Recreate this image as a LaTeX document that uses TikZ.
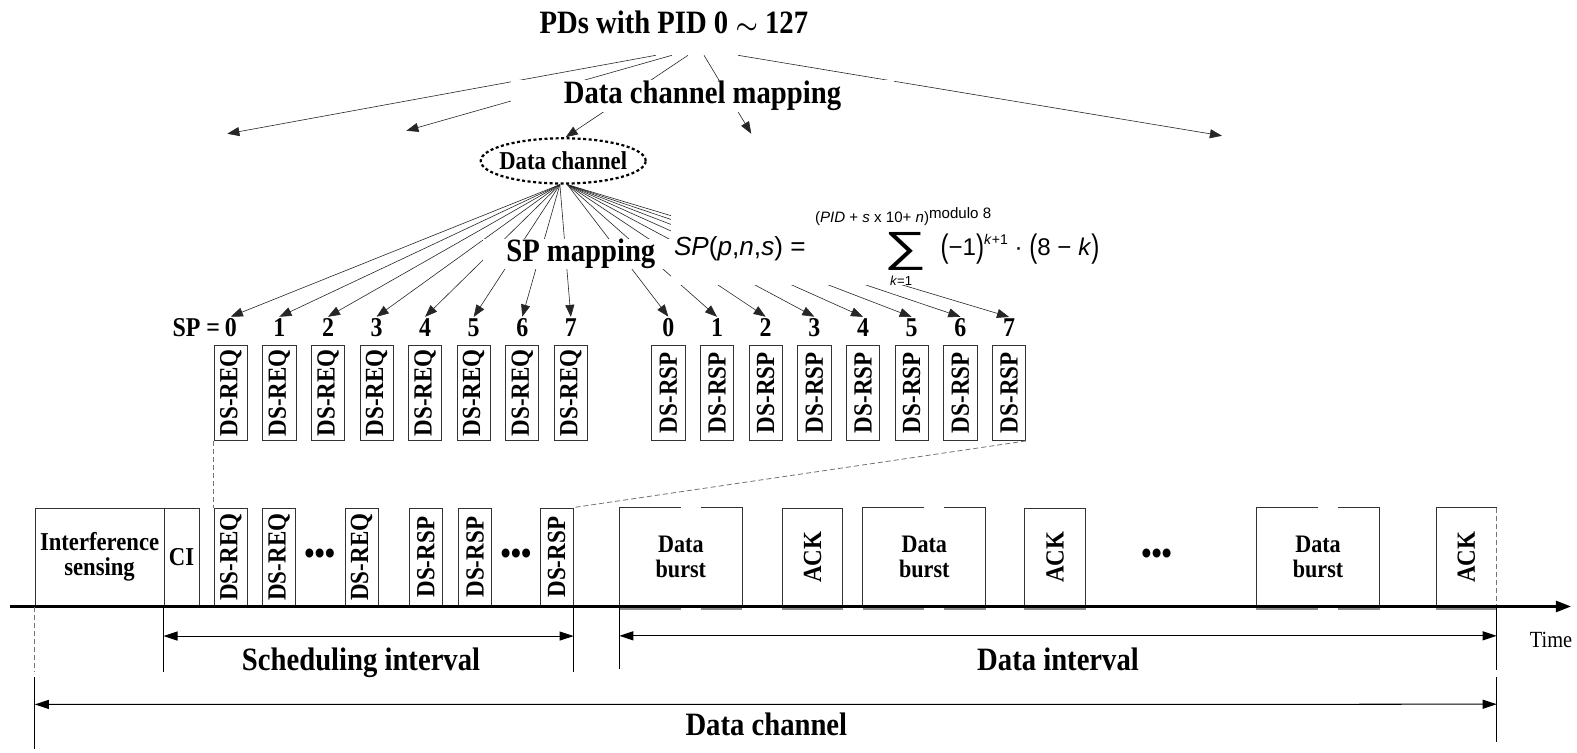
\documentclass[tikz,border=0pt]{standalone}
\usepackage{fontspec}
\setmainfont{Liberation Serif}[FakeStretch=0.88]
\newfontfamily\fsans{Liberation Sans}
\usetikzlibrary{arrows.meta,shapes.geometric,calc}

\tikzset{
  bigtext/.style={font=\fontsize{32.4}{34}\selectfont\bfseries, inner sep=0pt},
  numtext/.style={font=\fontsize{27}{28}\selectfont\bfseries, inner sep=2pt},
  fanarrow/.style={draw=black!85, line width=0.6pt, -{Triangle[length=12pt,width=9pt]}},
  slot/.style={draw=black!80, line width=0.8pt, minimum width=33pt, minimum height=95pt,
               inner sep=0pt, font=\fontsize{26}{27}\selectfont\bfseries},
  tslot/.style={slot, minimum height=98pt},
  wide/.style={minimum height=98pt, inner sep=0pt, align=center,
               font=\fontsize{25}{25}\selectfont\bfseries},
  boxedge/.style={draw=black!80, line width=0.8pt},
  baseshade/.style={draw=black!45, line width=3pt},
  twoway/.style={line width=1pt, {Triangle[length=14pt,width=9pt]}-{Triangle[length=14pt,width=9pt]}},
  vtick/.style={line width=1pt},
  guide/.style={draw=black!55, line width=0.8pt, dash pattern=on 5pt off 3pt},
  fx/.style={font=\fsans\fontsize{26}{26}\selectfont, inner sep=0pt},
  fxs/.style={font=\fsans\fontsize{15}{15}\selectfont, inner sep=0pt},
  dots/.style={font=\fontsize{33}{33}\selectfont\bfseries, inner sep=0pt},
}

\begin{document}
\begin{tikzpicture}[x=1pt,y=-1pt]
\useasboundingbox (0,0) rectangle (1568,748);

% ---- PID to data channel mapping ----
\node[bigtext] (title) at (670,22) {PDs with PID 0 {\boldmath$\sim$} 127};
\coordinate (t1) at (652,55);
\coordinate (t2) at (668,55);
\coordinate (t3) at (684,55);
\coordinate (t4) at (700,55);
\coordinate (t5) at (734,55);
\coordinate (c1) at (226,133);
\coordinate (c2) at (404,130);
\coordinate (c4) at (747,133);
\coordinate (c5) at (1215,135);

\node[ellipse, draw, line width=2.2pt, dash pattern=on 3pt off 2.5pt,
      minimum width=164pt, minimum height=45pt, inner xsep=-6pt, inner ysep=0pt,
      font=\fontsize{25.6}{26}\selectfont\bfseries] (dc) at (560,160) {Data channel};

\draw[fanarrow] (t1) -- (c1);
\draw[fanarrow] (t2) -- (c2);
\draw[fanarrow] (t3) -- (dc.84);
\draw[fanarrow] (t4) -- (c4);
\draw[fanarrow] (t5) -- (c5);
\node[bigtext, fill=white, minimum width=381pt, minimum height=31pt] (dcmap) at (698.5,95.5) {Data channel mapping};

% ---- sub-period slots ----
\foreach \i in {0,...,7} {
  \node[slot] (q\i) at ({229.5+48.3*\i},390.5) {\rotatebox{90}{DS-REQ}};
  \node[numtext, anchor=base] (qn\i) at ({229.5+48.3*\i},335) {\i};
  \node[slot] (p\i) at ({664.5+48.4*\i},390.5) {\rotatebox{90}{DS-RSP}};
  \node[numtext, anchor=base] (pn\i) at ({664.5+48.4*\i},335) {\i};
  \draw[fanarrow] (dc.262) -- (qn\i.north);
  \draw[fanarrow] (dc.280) -- (pn\i.north);
}
\node[numtext, anchor=base east, inner sep=0pt] (sp) at (219,335) {SP =};

\node[bigtext, fill=white, minimum width=195pt, minimum height=29pt] (spmap) at (577.5,252.5) {SP mapping};

% ---- SP formula ----
\node[fill=white, minimum width=433pt, minimum height=80pt, inner sep=0pt] (fxbg) at (883.5,243) {};
\node[fx, anchor=base west] (fl) at (670,254) {\textit{SP}(\textit{p},\textit{n},\textit{s}) =};
\node[font=\fsans\fontsize{42}{42}\selectfont, inner sep=0pt] (fsum) at (900,250) {\scalebox{1.4}[1]{∑}};
\node[fxs] (fup) at (898,215) {(\textit{PID} + \textit{s} x 10+ \textit{n})\raisebox{4pt}{modulo 8}};
\node[fxs, font=\fsans\fontsize{13}{13}\selectfont] (flo) at (896,279) {\textit{k}=1};
\node[fx, font=\fsans\fontsize{24}{24}\selectfont, anchor=base west] (fr) at (935,254)
  {\raisebox{-2pt}{\scalebox{1}[1.35]{(}}−1\raisebox{-2pt}{\scalebox{1}[1.35]{)}}\raisebox{11pt}{\fontsize{14}{14}\selectfont\textit{k}+1} · \raisebox{-2pt}{\scalebox{1}[1.35]{(}}8 − \textit{k}\raisebox{-2pt}{\scalebox{1}[1.35]{)}}};

% ---- time line: frame structure ----
\coordinate (ax0) at (10,603);
\coordinate (ax1) at (1562,603);

\node[tslot, minimum width=128pt, align=center, font=\fontsize{25.6}{25}\selectfont\bfseries] (isn) at (99,554) {Interference\\sensing};
\node[tslot, minimum width=35pt, font=\fontsize{25.6}{26}\selectfont\bfseries] (ci) at (180.5,554) {CI};
\node[tslot] (bq1) at (229.5,554) {\rotatebox{90}{DS-REQ}};
\node[tslot] (bq2) at (277.5,554) {\rotatebox{90}{DS-REQ}};
\node[tslot] (bq3) at (359.5,554) {\rotatebox{90}{DS-REQ}};
\node[tslot] (bp1) at (423.5,554) {\rotatebox{90}{DS-RSP}};
\node[tslot] (bp2) at (472.5,554) {\rotatebox{90}{DS-RSP}};
\node[tslot] (bp3) at (553.5,554) {\rotatebox{90}{DS-RSP}};
\node[dots] (d1) at (318,554) {•••};
\node[dots] (d2) at (513,554) {•••};

\node[wide, minimum width=122pt] (db1) at (677,554) {Data\\burst};
\node[tslot, minimum width=60pt] (ak1) at (808,554) {\rotatebox{90}{ACK}};
\node[wide, minimum width=122pt] (db2) at (919,554) {Data\\burst};
\node[tslot, minimum width=60pt] (ak2) at (1049,554) {\rotatebox{90}{ACK}};
\node[dots] (d3) at (1150,554) {•••};
\node[wide, minimum width=122pt] (db3) at (1310.5,554) {Data\\burst};
\node[wide, minimum width=60pt, font=\fontsize{26}{27}\selectfont\bfseries] (ak3) at (1458,554) {\rotatebox{90}{ACK}};

% data bursts: outline broken at the top and bottom
\foreach \b in {db1,db2,db3} {
  \draw[baseshade] ($(\b.south west)+(0,2)$) -- ($(\b.south)+(0,2)$);
  \draw[baseshade] ($(\b.south)+(20,2)$) -- ($(\b.south east)+(0,2)$);
  \draw[boxedge] (\b.north) -- (\b.north west) -- (\b.south west);
  \draw[boxedge] ($(\b.north)+(20,0)$) -- (\b.north east) -- (\b.south east);
}
\foreach \b in {ak1,ak2,ak3} {
  \draw[baseshade] ($(\b.south west)+(0,2)$) -- ($(\b.south east)+(0,2)$);
}
\draw[boxedge] (ak3.north east) -- (ak3.north west) -- (ak3.south west);
\draw[guide] (ak3.north east) -- (ak3.south east);

\draw[line width=2.5pt, -{Triangle[length=15pt,width=11pt]}] (ax0) -- (ax1);
\node[font=\fontsize{23}{24}\selectfont, anchor=west, inner sep=0pt] (time) at (1521,636) {Time};

% slot guides from the mapping to the frame
\draw[guide] (q0.south west) -- (bq1.north west);
\draw[guide] (p7.south east) -- (bp3.north east);

% scheduling interval
\draw[vtick] (ci.south west) -- ++(0,65);
\draw[vtick] (bp3.south east) -- ++(0,65);
\draw[twoway] ($(ci.south west)+(0,29)$) -- ($(bp3.south east)+(0,29)$);
\node[bigtext, anchor=base] (schedtxt) at (359,667) {Scheduling interval};

% data interval
\draw[vtick] (db1.south west) -- ++(0,62);
\draw[vtick] (ak3.south east) -- ++(0,63);
\draw[twoway] ($(db1.south west)+(0,29)$) -- ($(ak3.south east)+(0,29)$);
\node[bigtext, anchor=base] (ditxt) at (1052,667) {Data interval};

% whole data channel
\draw[guide] (isn.south west) -- ++(0,65);
\draw[vtick] ($(isn.south west)+(0,70)$) -- ++(0,71);
\draw[vtick] ($(ak3.south east)+(0,70)$) -- ++(0,65);
\draw[twoway] ($(isn.south west)+(0,97)$) -- ($(ak3.south east)+(0,97)$);
\node[bigtext, anchor=base] (dctxt) at (762,731) {Data channel};
\end{tikzpicture}
\end{document}
